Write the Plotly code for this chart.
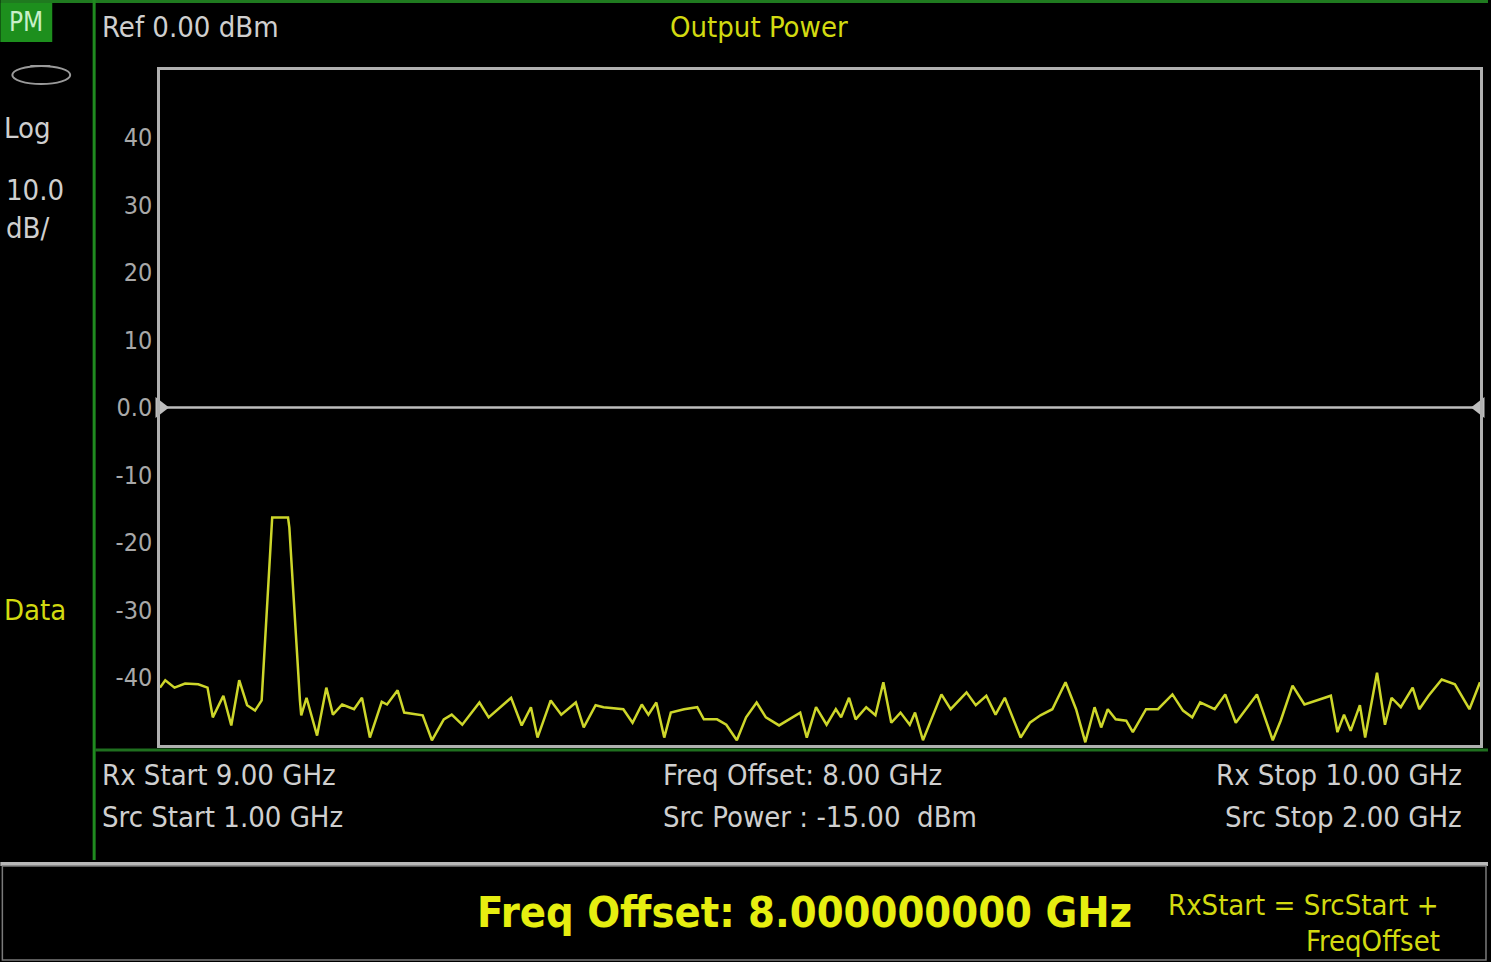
import plotly.graph_objects as go

# ---- data ----
freq_ghz = [9.000, 9.004, 9.011, 9.019, 9.029, 9.036, 9.040, 9.048, 9.054, 9.060,
            9.066, 9.072, 9.077, 9.085, 9.097, 9.098, 9.106, 9.107, 9.111, 9.119,
            9.126, 9.131, 9.138, 9.147, 9.153, 9.159, 9.168, 9.172, 9.180, 9.185,
            9.199, 9.206, 9.215, 9.221, 9.229, 9.242, 9.249, 9.255, 9.266, 9.274,
            9.281, 9.286, 9.296, 9.304, 9.315, 9.321, 9.330, 9.336, 9.351, 9.358,
            9.365, 9.370, 9.376, 9.382, 9.387, 9.397, 9.407, 9.412, 9.422, 9.429,
            9.437, 9.444, 9.452, 9.459, 9.469, 9.485, 9.490, 9.497, 9.505, 9.512,
            9.516, 9.522, 9.527, 9.535, 9.542, 9.548, 9.554, 9.561, 9.568, 9.572,
            9.578, 9.592, 9.599, 9.611, 9.618, 9.626, 9.633, 9.640, 9.652, 9.659,
            9.667, 9.676, 9.686, 9.694, 9.701, 9.708, 9.713, 9.718, 9.724, 9.732,
            9.737, 9.747, 9.756, 9.767, 9.775, 9.782, 9.788, 9.799, 9.807, 9.815,
            9.825, 9.831, 9.843, 9.849, 9.858, 9.867, 9.887, 9.892, 9.897, 9.902,
            9.909, 9.913, 9.922, 9.928, 9.933, 9.940, 9.949, 9.954, 9.961, 9.971,
            9.981, 9.992, 10.000]
power_dbm = [-41.5, -40.4, -41.5, -40.9, -41.0, -41.5, -45.9, -42.7, -47.1, -40.4,
             -44.1, -44.9, -43.4, -16.3, -16.3, -17.8, -43.4, -45.6, -43.0, -48.6,
             -41.5, -45.5, -44.0, -44.7, -43.0, -48.9, -43.6, -44.0, -41.9, -45.2,
             -45.6, -49.3, -46.2, -45.5, -47.0, -43.7, -45.9, -44.9, -43.0, -47.1,
             -44.4, -48.9, -43.4, -45.5, -43.7, -47.4, -44.1, -44.4, -44.7, -46.7,
             -44.0, -45.5, -43.7, -48.9, -45.2, -44.7, -44.4, -46.2, -46.2, -47.0,
             -49.3, -45.9, -43.7, -45.9, -47.1, -45.2, -48.9, -44.4, -47.0, -44.7,
             -45.9, -43.0, -46.2, -44.4, -45.6, -40.7, -46.7, -45.2, -47.0, -45.2,
             -49.3, -42.5, -44.7, -42.2, -44.1, -42.7, -45.5, -43.0, -48.9, -46.7,
             -45.6, -44.7, -40.7, -44.7, -49.6, -44.4, -47.4, -44.7, -46.2, -46.4,
             -48.1, -44.7, -44.7, -42.5, -44.9, -45.9, -43.7, -44.7, -42.5, -46.7,
             -44.0, -42.5, -49.3, -46.4, -41.2, -44.0, -42.7, -48.1, -45.5, -47.9,
             -44.1, -48.9, -39.3, -47.0, -43.0, -44.4, -41.5, -44.7, -42.7, -40.3,
             -41.0, -44.7, -40.7]
y_tick_vals = [40, 30, 20, 10, 0, -10, -20, -30, -40]
y_tick_text = ["40", "30", "20", "10", "0.0", "-10", "-20", "-30", "-40"]
ref_level = 0.0
rx_start, rx_stop = 9.0, 10.0

# ---- layout geometry (pixels) ----
W, H = 1491, 962
L, R, T, B = 160, 1483, 70, 745

def px(x):
    return (x - L) / (R - L)

def py(y):
    return (B - y) / (B - T)

FONT = "DejaVu Sans Condensed, Liberation Sans Narrow, Arial Narrow, DejaVu Sans, sans-serif"
GRAY_TXT = "#cfcfcf"
TRACE = "#cdd62a"
YEL = "#d2da10"

fig = go.Figure()
fig.add_trace(go.Scatter(x=freq_ghz, y=power_dbm, mode="lines",
                         line=dict(color=TRACE, width=2.5), showlegend=False,
                         hoverinfo="skip"))
# reference level markers
fig.add_trace(go.Scatter(x=[rx_start, rx_stop], y=[ref_level, ref_level], mode="markers",
                         marker=dict(symbol=["triangle-right", "triangle-left"], size=18,
                                     color="#bdbdbd"),
                         cliponaxis=False, showlegend=False, hoverinfo="skip"))

shapes = []
# reference line
shapes.append(dict(type="line", xref="x", yref="y", x0=rx_start, x1=rx_stop,
                   y0=ref_level, y1=ref_level, line=dict(color="#bdbdbd", width=2.5)))
# green top border
shapes.append(dict(type="line", xref="paper", yref="paper", x0=px(0), x1=px(W),
                   y0=py(1.5), y1=py(1.5), line=dict(color="#1f7a1f", width=3)))
# left panel divider
shapes.append(dict(type="line", xref="paper", yref="paper", x0=px(94), x1=px(94),
                   y0=py(0), y1=py(860), line=dict(color="#1f8a1f", width=3)))
# green line under plot
shapes.append(dict(type="line", xref="paper", yref="paper", x0=px(95), x1=px(W),
                   y0=py(750), y1=py(750), line=dict(color="#1f6f1f", width=3)))
# separator line above bottom bar
shapes.append(dict(type="line", xref="paper", yref="paper", x0=px(0), x1=px(W),
                   y0=py(864), y1=py(864), line=dict(color="#b8b8b8", width=4)))
# bottom bar frame
shapes.append(dict(type="rect", xref="paper", yref="paper", x0=px(2), x1=px(W - 2),
                   y0=py(866), y1=py(960), line=dict(color="#7a7a7a", width=1.5)))
# PM badge
shapes.append(dict(type="rect", xref="paper", yref="paper", x0=px(0), x1=px(52),
                   y0=py(3), y1=py(42), fillcolor="#1d8f1d", line=dict(width=0)))
# ellipse icon
shapes.append(dict(type="circle", xref="paper", yref="paper", x0=px(12), x1=px(70),
                   y0=py(66), y1=py(84), line=dict(color="#9a9a9a", width=2)))
shapes.append(dict(type="line", xref="paper", yref="paper", x0=px(30), x1=px(50),
                   y0=py(66), y1=py(66), line=dict(color="#9a9a9a", width=2)))

ann = []
def text(x, y, s, size, color, anchor="left", bold=False):
    if bold:
        s = "<b>" + s + "</b>"
    ann.append(dict(x=px(x), y=py(y), xref="paper", yref="paper", text=s,
                    showarrow=False, xanchor=anchor, yanchor="middle",
                    font=dict(family=FONT, size=size, color=color)))

text(26, 22, "PM", 26, "#c8f0c8", "center")
text(100, 27, "Ref 0.00 dBm", 29, GRAY_TXT)
text(760, 27, "Output Power", 29, YEL, "center")
text(2, 128, "Log", 29, GRAY_TXT)
text(4, 190, "10.0", 29, GRAY_TXT)
text(4, 228, "dB/", 29, GRAY_TXT)
text(2, 610, "Data", 29, YEL)
text(100, 775, "Rx Start 9.00 GHz", 29, GRAY_TXT)
text(100, 817, "Src Start 1.00 GHz", 29, GRAY_TXT)
text(662, 775, "Freq Offset: 8.00 GHz", 29, GRAY_TXT)
text(662, 817, "Src Power : -15.00 \u00a0dBm", 29, GRAY_TXT)
text(1467, 775, "Rx Stop 10.00 GHz", 29, GRAY_TXT, "right")
text(1467, 817, "Src Stop 2.00 GHz", 29, GRAY_TXT, "right")
text(806, 912, "Freq Offset: 8.000000000 GHz", 43, "#e6ee10", "center", bold=True)
text(1168, 905, "RxStart = SrcStart +", 29, YEL)
text(1445, 941, "FreqOffset", 29, YEL, "right")

fig.update_layout(
    width=W, height=H, autosize=False,
    margin=dict(l=L, r=W - R, t=T, b=H - B, pad=0),
    paper_bgcolor="black", plot_bgcolor="black",
    shapes=shapes, annotations=ann, showlegend=False,
    xaxis=dict(range=[rx_start, rx_stop], showgrid=False, zeroline=False,
               showticklabels=False, ticks="", showline=True, mirror=True,
               linecolor="#b0b0b0", linewidth=2.5, fixedrange=True),
    yaxis=dict(range=[-50, 50], showgrid=False, zeroline=False,
               tickvals=y_tick_vals, ticktext=y_tick_text, ticks="",
               tickfont=dict(family=FONT, size=25, color="#a8a8a8"),
               showline=True, mirror=True, linecolor="#b0b0b0", linewidth=2.5,
               fixedrange=True),
)

fig.write_html("out.html", config={"displayModeBar": False},
               post_script="document.body.style.margin='0';document.body.style.background='black';document.body.style.overflow='hidden';")
